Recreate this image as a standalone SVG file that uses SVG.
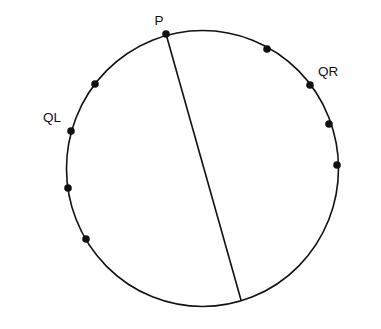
<svg xmlns="http://www.w3.org/2000/svg" width="381" height="329" viewBox="0 0 381 329">
<style>
.c{fill:none;stroke:#111;stroke-width:1.6}
.d{fill:#111}
.t{font-family:"Liberation Sans",Arial,sans-serif;font-size:13.5px;fill:#111;text-anchor:middle}
</style>
<rect width="381" height="329" fill="#fff"/>
<g id="circle"><ellipse class="c" cx="202.5" cy="168.5" rx="136" ry="138"/></g>
<g id="connectors"><line class="c" x1="166" y1="34" x2="241" y2="300"/></g>
<g id="P"><circle class="d" cx="166" cy="34" r="3.8"/><text class="t" x="159" y="25">P</text></g>
<g id="n1"><circle class="d" cx="267" cy="49" r="3.8"/></g>
<g id="n2"><circle class="d" cx="310" cy="85" r="3.8"/></g>
<g id="n3"><circle class="d" cx="329" cy="124" r="3.8"/></g>
<g id="n4"><circle class="d" cx="337" cy="165" r="3.8"/></g>
<g id="n5"><circle class="d" cx="95" cy="84" r="3.8"/></g>
<g id="n6"><circle class="d" cx="71" cy="131" r="3.8"/></g>
<g id="n7"><circle class="d" cx="68" cy="188" r="3.8"/></g>
<g id="n8"><circle class="d" cx="86" cy="239" r="3.8"/></g>
<g id="QR"><text class="t" x="328" y="76">QR</text></g>
<g id="QL"><text class="t" x="52" y="122">QL</text></g>
</svg>
